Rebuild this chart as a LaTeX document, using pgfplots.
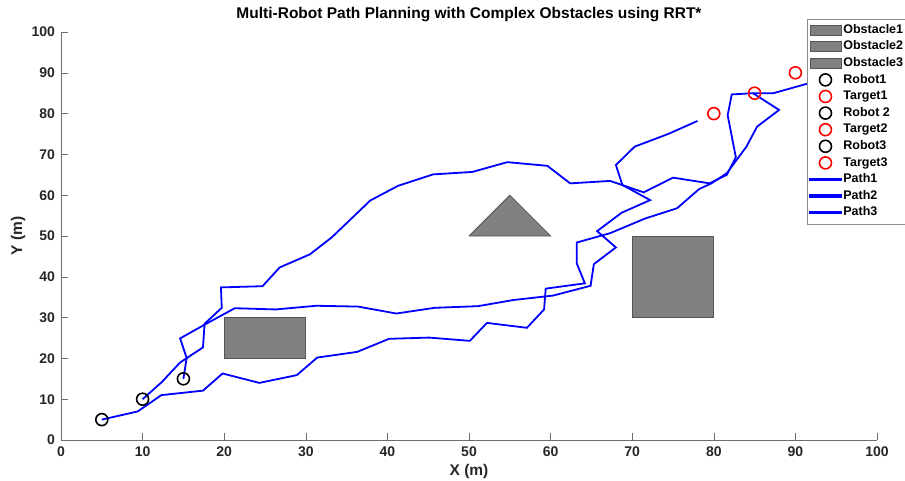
\documentclass[border=0pt]{standalone}
\usepackage{pgfplots}
\pgfplotsset{compat=1.18}
\usepackage{fontspec}
\setmainfont{Liberation Sans}
\definecolor{pathblue}{RGB}{0,0,255}
\definecolor{obsfill}{RGB}{128,128,128}
\definecolor{obsedge}{RGB}{85,85,85}
\definecolor{axgray}{RGB}{110,110,110}
\definecolor{txtgray}{RGB}{38,38,38}
\definecolor{tgtred}{RGB}{255,0,0}
\pgfplotsset{
  areaimg/.style={legend image code/.code={\draw[fill=obsfill, draw=obsedge, line width=0.8pt] (0pt,-5pt) rectangle (31pt,5pt);}},
  pathimg/.style={legend image code/.code={\fill[pathblue] (0pt,-0.9pt) rectangle (31pt,0.9pt);\draw[pathblue, line width=1.8pt] (0pt,0pt) -- (31pt,0pt);}},
  robimg/.style={legend image code/.code={\draw[black, line width=1.6pt] (15.5pt,0pt) circle[radius=6pt];}},
  tgtimg/.style={legend image code/.code={\draw[tgtred, line width=1.6pt] (15.5pt,0pt) circle[radius=6pt];}},
}
\begin{document}
\begin{tikzpicture}
\useasboundingbox (-61pt,-40pt) rectangle (844pt,440pt);
\begin{axis}[
  at={(0pt,0pt)}, anchor=south west,
  scale only axis, width=816pt, height=408pt,
  xmin=0, xmax=100, ymin=0, ymax=100,
  xtick={0,10,...,100}, ytick={0,10,...,100},
  axis x line*=bottom, axis y line*=left,
  axis line style={axgray, line width=0.6pt},
  tick style={axgray, line width=0.6pt},
  tick align=inside, major tick length=7pt,
  ticklabel style={font=\fontsize{14}{16}\selectfont\bfseries, text=txtgray},
  xticklabel style={yshift=-3.5pt},
  yticklabel style={xshift=-2.5pt},
  /pgf/number format/assume math mode=true,
  title={Multi-Robot Path Planning with Complex Obstacles using RRT*},
  title style={font=\fontsize{15.5}{17}\selectfont\bfseries, at={(axis description cs:0.5,1.0196)}, anchor=base, inner sep=0pt},
  xlabel={X (m)}, ylabel={Y (m)},
  xlabel style={font=\fontsize{15.5}{17}\selectfont\bfseries, text=txtgray, at={(axis description cs:0.5,-0.0858)}, anchor=base, inner sep=0pt},
  ylabel style={font=\fontsize{15.5}{17}\selectfont\bfseries, text=txtgray, at={(axis description cs:-0.0527,0.5)}, anchor=center, inner sep=0pt},
  clip=false,
  legend cell align=left,
  legend style={at={(axis description cs:0.914,1.033)}, anchor=north west,
    draw={rgb,255:red,140;green,140;blue,140}, line width=0.5pt, fill=white,
    font=\fontsize{12.5}{14}\selectfont\bfseries,
    inner xsep=2pt, inner ysep=3pt,
    nodes={inner xsep=1.5pt, inner ysep=1.5pt, text height=10.1pt, text depth=3.5pt}},
]
% obstacles
\addplot[fill=obsfill, draw=obsedge, line width=0.8pt, areaimg] coordinates {(20,20) (30,20) (30,30) (20,30) (20,20)};
\addlegendentry{Obstacle1}
\addplot[fill=obsfill, draw=obsedge, line width=0.8pt, areaimg] coordinates {(50,50) (60,50) (55,60) (50,50)};
\addlegendentry{Obstacle2}
\addplot[fill=obsfill, draw=obsedge, line width=0.8pt, areaimg] coordinates {(70,30) (80,30) (80,50) (70,50) (70,30)};
\addlegendentry{Obstacle3}
% robots and targets
\addplot[only marks, mark=o, mark size=6pt, black, line width=1.6pt, robimg] coordinates {(5,5)};
\addlegendentry{Robot1}
\addplot[only marks, mark=o, mark size=6pt, tgtred, line width=1.6pt, tgtimg] coordinates {(80,80)};
\addlegendentry{Target1}
\addplot[only marks, mark=o, mark size=6pt, black, line width=1.6pt, robimg] coordinates {(10,10)};
\addlegendentry{Robot 2}
\addplot[only marks, mark=o, mark size=6pt, tgtred, line width=1.6pt, tgtimg] coordinates {(85,85)};
\addlegendentry{Target2}
\addplot[only marks, mark=o, mark size=6pt, black, line width=1.6pt, robimg] coordinates {(15,15)};
\addlegendentry{Robot3}
\addplot[only marks, mark=o, mark size=6pt, tgtred, line width=1.6pt, tgtimg] coordinates {(90,90)};
\addlegendentry{Target3}
% paths
\addplot[pathblue, line width=1.8pt, no markers, pathimg] coordinates {
(5,5) (9.4,7.0) (12.3,11.0) (17.4,12.1) (19.8,16.3) (24.3,14.0) (28.9,15.9) (31.4,20.2) (36.3,21.6) (40.2,24.8) (45.1,25.1) (50.1,24.3) (52.2,28.7) (57.1,27.5) (59.2,32.0) (59.4,37.1) (64.2,38.4) (63.2,43.3) (63.2,48.4) (67.3,50.7) (71.6,54.3) (75.5,56.8) (78.2,61.5) (79.7,62.9) (81.6,65.4) (84.0,71.9) (85.3,76.8) (88.0,80.9) (84.8,85.0)
};
\addlegendentry{Path1}
\addplot[pathblue, line width=1.8pt, no markers, pathimg] coordinates {
(10,10) (12.3,14.1) (14.6,19.0) (17.4,22.7) (17.6,28.5) (19.7,32.4) (19.6,37.4) (24.7,37.7) (26.8,42.3) (30.5,45.5) (33.2,49.7) (37.9,58.7) (41.3,62.3) (45.6,65.1) (50.4,65.7) (54.7,68.1) (59.6,67.2) (62.4,62.9) (67.3,63.5) (71.4,60.7) (75.0,64.3) (79.5,62.9) (81.6,65.0) (82.7,69.3) (81.7,79.6) (82.2,84.7) (84.8,85.0) (87.3,85.0) (91.4,87.3) (94.0,88.5)
};
\addlegendentry{Path2}
\addplot[pathblue, line width=1.8pt, no markers, pathimg] coordinates {
(15,15) (15.4,20.1) (14.6,24.9) (17.8,28.5) (21.3,32.3) (26.3,32.0) (31.3,32.9) (36.4,32.7) (41.1,31.0) (45.8,32.4) (51.1,32.8) (55.4,34.3) (60.3,35.4) (64.9,37.8) (65.3,43.1) (68.0,47.2) (65.7,51.2) (68.7,55.7) (72.2,58.8) (68.8,62.5) (68.0,67.4) (70.3,71.9) (74.4,75.0) (78.0,78.2)
};
\addlegendentry{Path3}
\end{axis}
\end{tikzpicture}
\end{document}
